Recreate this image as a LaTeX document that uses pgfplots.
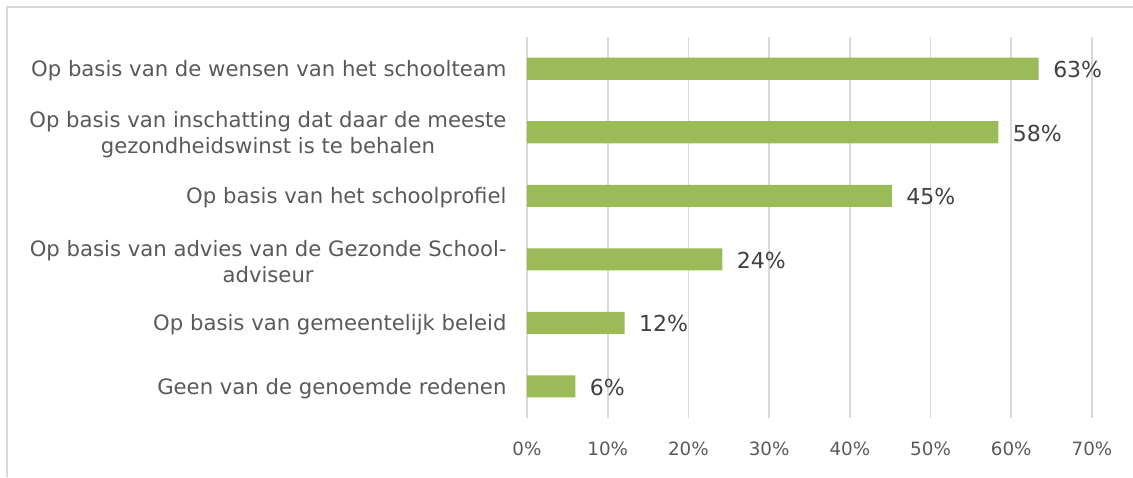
\documentclass[border=0pt]{standalone}
\usepackage{pgfplots}
\pgfplotsset{compat=1.18}
\usepackage{fontspec}
\setmainfont{DejaVu Sans}
\definecolor{barc}{HTML}{9BBB59}
\definecolor{gridc}{HTML}{D9D9D9}
\definecolor{txt}{HTML}{595959}
\definecolor{val}{HTML}{404040}
\begin{document}
\begin{tikzpicture}[x=1pt,y=1pt]
\path[use as bounding box] (0,0) rectangle (1133,477);
\draw[gridc, line width=2pt] (7,0) -- (7,470) -- (1133,470);
\begin{axis}[
  at={(527pt,59pt)}, anchor=south west,
  scale only axis, width=565pt, height=381pt,
  xmin=0, xmax=70, ymin=-0.5, ymax=5.5,
  enlargelimits=false,
  xbar, bar width=22pt, bar shift=0pt,
  axis line style={draw=none},
  major tick length=0pt,
  xmajorgrids, grid style={gridc, line width=1.6pt},
  xtick={0,10,...,70},
  xticklabel={\pgfmathprintnumber{\tick}\%},
  /pgf/number format/assume math mode=true,
  xticklabel style={font=\fontsize{18.3}{22}\selectfont, text=txt, yshift=-20pt},
  ytick={0,...,5},
  yticklabels={Geen van de genoemde redenen,
    Op basis van gemeentelijk beleid,
    {Op basis van advies van de Gezonde School-\\adviseur},
    Op basis van het schoolprofiel,
    {Op basis van inschatting dat daar de meeste\\gezondheidswinst is te behalen},
    Op basis van de wensen van het schoolteam},
  yticklabel style={align=center, font=\fontsize{21.2}{26}\selectfont, text=txt, xshift=-17pt, yshift=-2pt},
  nodes near coords,
  point meta=explicit symbolic,
  nodes near coords style={anchor=west, xshift=11pt, yshift=-1pt, font=\fontsize{22}{26}\selectfont, text=val},
]
\addplot[fill=barc, draw=none] coordinates {
  (6.0,0) [6\%]
  (12.1,1) [12\%]
  (24.2,2) [24\%]
  (45.2,3) [45\%]
  (58.4,4) [58\%]
  (63.4,5) [63\%]
};
\end{axis}
\end{tikzpicture}
\end{document}
